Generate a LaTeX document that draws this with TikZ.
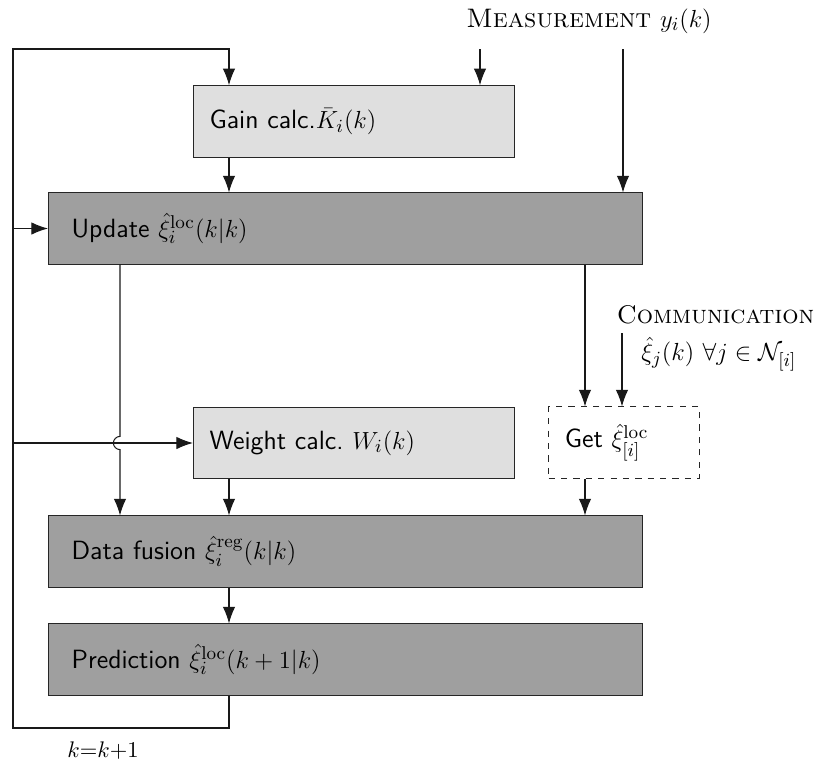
\documentclass[tikz,border=0pt]{standalone}
\usetikzlibrary{arrows.meta}
\begin{document}
\begin{tikzpicture}[x=0.485pt,y=-0.485pt,
  every node/.style={font=\sffamily\fontsize{12.8}{15}\selectfont},
  lbl/.style={inner sep=0pt},
  block/.style={draw=black!85, line width=0.5pt, inner ysep=0pt, align=left, anchor=center},
  light/.style={block, fill=gray!25},
  dark/.style={block, fill=gray!75},
  wide/.style={inner xsep=11.2pt, text width=265.7pt, minimum width=288.1pt, minimum height=34.5pt},
  narrow/.style={inner xsep=7.8pt, text width=140.1pt, minimum width=155.7pt, minimum height=34.7pt},
  arr/.style={line width=0.5pt, draw=black!90, -{Latex[length=8pt,width=6pt]}}]
\useasboundingbox (0,0) rectangle (824,765);

% processing blocks
\node[light, narrow] (gain) at (354,121.5) {Gain calc.$\bar{K}_i(k)$};
\node[dark, wide] (upd) at (345.5,228.5) {Update $\hat{\xi}^{\mathrm{loc}}_i(k|k)$};
\node[light, narrow] (wgt) at (354,443) {Weight calc.\ $W_i(k)$};
\node[block, dashed, inner xsep=7.8pt, text width=57.4pt, minimum width=73pt, minimum height=34.5pt] (get) at (624,442.5) {Get $\hat{\xi}^{\mathrm{loc}}_{[i]}$};
\node[dark, wide] (fus) at (345.5,551.5) {Data fusion $\hat{\xi}^{\mathrm{reg}}_i(k|k)$};
\node[dark, wide] (pred) at (345.5,659.5) {Prediction $\hat{\xi}^{\mathrm{loc}}_i(k+1|k)$};

% external inputs and loop label
\node[lbl, font=\rmfamily\fontsize{13}{15}\selectfont] (meas) at (589,21) {\textsc{Measurement} $y_i(k)$};
\node[lbl, font=\rmfamily\fontsize{12.4}{15}\selectfont] (comm) at (715.5,315) {\textsc{Communication}};
\node[lbl, font=\rmfamily\fontsize{12.7}{15}\selectfont] (commv) at (719,354) {$\hat{\xi}_j(k)\ \forall j\in\mathcal{N}_{[i]}$};
\node[lbl, font=\rmfamily\fontsize{11}{13}\selectfont] (step) at (103,751) {$k{=}k{+}1$};

% column and row helpers
\coordinate (cA) at (120,0);
\coordinate (cB) at (229,0);
\coordinate (cC) at (480,0);
\coordinate (cD) at (585,0);
\coordinate (cE) at (623,0);
\coordinate (top) at (0,49);
\coordinate (bot) at (0,728);
\coordinate (loopL) at (13,0);
\coordinate (hopTop) at (120,436.4);
\coordinate (commTop) at (622,333);

% feedback loop k -> k+1
\draw[arr] (pred.south -| cB) |- (loopL |- bot) -- (loopL |- top) -| (gain.north -| cB);
\draw[arr] (loopL |- upd.west) -- (upd.west);
\draw[arr] (loopL |- wgt.west) -- (wgt.west);

% measurement inputs
\draw[arr] (top -| cC) -- (gain.north -| cC);
\draw[arr] (top -| cE) -- (upd.north -| cE);

% main flow
\draw[arr] (gain.south -| cB) -- (upd.north -| cB);
\draw[arr] (upd.south -| cA) -- (hopTop) arc[start angle=90, end angle=270, radius=3.2pt] -- (fus.north -| cA);
\draw[arr] (upd.south -| cD) -- (get.north -| cD);
\draw[arr] (commTop) -- (get.north -| commTop);
\draw[arr] (wgt.south -| cB) -- (fus.north -| cB);
\draw[arr] (get.south -| cD) -- (fus.north -| cD);
\draw[arr] (fus.south -| cB) -- (pred.north -| cB);
\end{tikzpicture}
\end{document}
